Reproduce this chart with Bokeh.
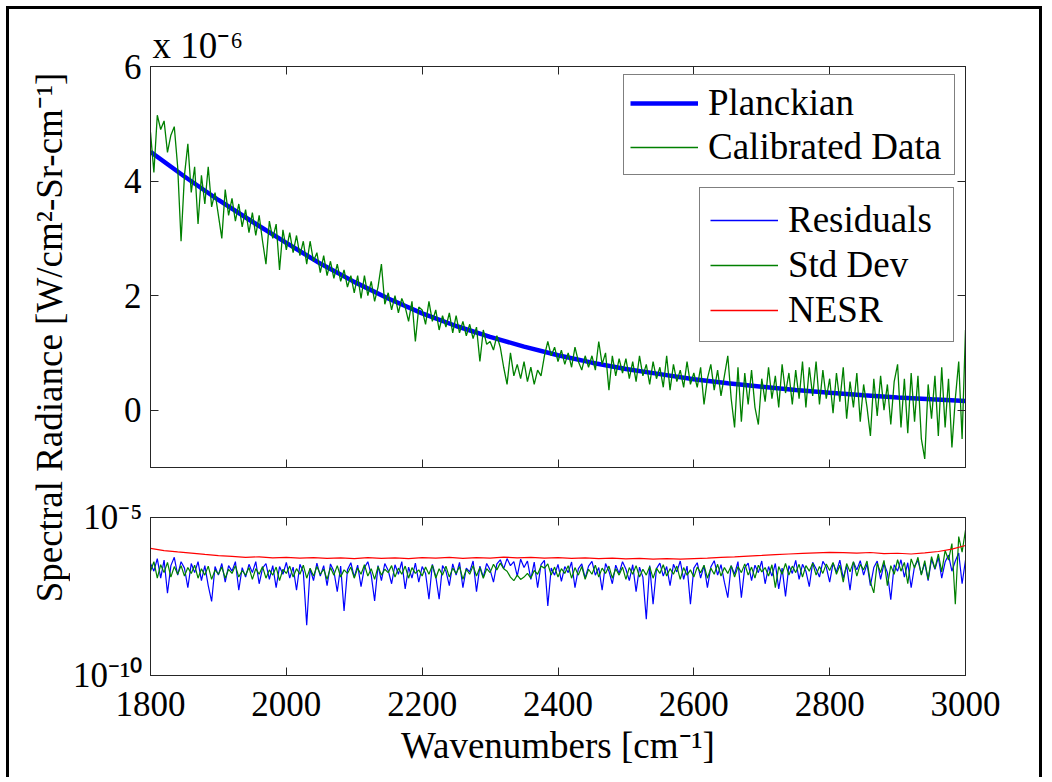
import math
from bokeh.plotting import figure
from bokeh.layouts import row, column
from bokeh.models import (Range1d, LinearAxis, LogAxis, LogScale, FixedTicker, Legend,
                          LegendItem, Label)
from bokeh.embed import file_html
from bokeh.resources import INLINE

FONT = "Liberation Serif"
FS = "35px"      # tick labels
FL = "37px"      # axis labels, legend, multiplier
AXC = "#262626"
NAN = float("nan")

# ---------------- data ----------------
# wavenumber sampling grids [cm^-1]
wn = list(range(1800, 3001, 5))
planck_wn = list(range(1800, 3001, 50))
nesr_wn = list(range(1800, 3001, 20))

x_ticks = [1800, 2000, 2200, 2400, 2600, 2800, 3000]
top_y_ticks = [0, 2, 4, 6]
log_ticks = [1e-10, 1e-5]
log_tick_labels = {1e-10: "10\u207b\u00b9\u2070", 1e-5: "10\u207b\u2075"}

# Planckian fit (units of 1e-6 W/cm2-Sr-cm-1)
planck = [4.51, 4.08, 3.67, 3.29, 2.92, 2.56, 2.24, 1.95, 1.69, 1.47, 1.28, 1.11, 0.96,
          0.83, 0.72, 0.63, 0.54, 0.47, 0.41, 0.353, 0.304, 0.260, 0.223, 0.190, 0.162]

# calibrated data (units of 1e-6 W/cm2-Sr-cm-1)
calibrated = [
    4.85, 4.15, 5.15, 4.90, 5.05, 4.50, 4.80, 4.95, 4.25, 2.95,
    4.10, 4.65, 3.80, 4.25, 3.25, 4.10, 3.60, 4.25, 3.55, 3.80,
    3.40, 3.00, 3.85, 3.40, 3.70, 3.30, 3.60, 3.20, 3.50, 3.10,
    3.45, 3.05, 3.40, 2.95, 2.55, 3.30, 3.00, 3.25, 2.45, 3.15,
    2.80, 3.10, 2.75, 3.05, 2.70, 2.95, 2.55, 2.95, 2.60, 2.75,
    2.40, 2.70, 2.35, 2.60, 2.30, 2.55, 2.25, 2.45, 2.15, 2.35,
    2.05, 2.35, 1.95, 2.35, 2.00, 2.25, 1.90, 2.15, 2.55, 1.85,
    2.05, 1.75, 2.00, 1.70, 1.95, 1.80, 1.55, 1.90, 1.20, 1.80,
    1.75, 1.50, 1.90, 1.55, 1.75, 1.40, 1.65, 1.45, 1.70, 1.35,
    1.65, 1.35, 1.55, 1.30, 1.50, 1.25, 1.45, 0.85, 1.40, 1.15,
    1.20, 1.05, 1.30, 1.10, 0.75, 0.45, 1.00, 0.60, 0.80, 0.55,
    0.85, 0.50, 0.75, 0.45, 0.70, 0.60, 0.95, 1.20, 0.95, 1.10,
    0.85, 1.05, 0.80, 1.00, 0.75, 1.10, 0.85, 0.70, 0.95, 0.75,
    0.95, 0.70, 1.20, 0.80, 1.00, 0.35, 0.95, 0.60, 0.90, 0.65,
    0.90, 0.55, 0.85, 0.50, 0.95, 0.60, 0.80, 0.45, 0.85, 0.55,
    0.75, 0.40, 0.95, 0.35, 0.80, 0.50, 0.70, 0.40, 0.85, 0.45,
    0.65, 0.40, 0.75, 0.10, 0.55, 0.80, 0.35, 0.70, 0.25, 0.60,
    0.95, 0.20, -0.30, 0.75, -0.20, 0.65, 0.10, 0.70, 0.05, -0.25,
    0.55, 0.15, 0.75, 0.20, 0.60, 0.05, 0.80, 0.30, 0.65, 0.10,
    0.70, 0.20, 0.85, 0.05, 0.75, 0.25, 0.85, 0.10, 0.70, 0.20,
    0.55, -0.05, 0.65, 0.15, 0.75, -0.15, 0.50, 0.05, 0.65, -0.20,
    0.45, 0.05, -0.45, 0.55, -0.10, 0.60, 0.00, 0.45, -0.25, 0.50,
    0.80, -0.30, 0.55, -0.40, 0.65, -0.20, 0.60, -0.50, -0.85, 0.45,
    -0.15, 0.60, -0.45, 0.75, -0.30, 0.55, -0.65, 0.20, 0.85, -0.50, 1.40,
]

# residuals (W/cm2-Sr-cm-1)
residuals = [
    3.5e-7, 2.0e-7, 5.0e-7, 1.2e-7, 4.5e-7, 4.0e-8, 3.0e-7, 5.5e-7, 1.5e-7, 4.0e-7,
    2.5e-7, 6.0e-8, 3.5e-7, 1.8e-7, 4.0e-7, 1.0e-7, 3.0e-7, 7.0e-8, 2.2e-8, 2.8e-7,
    1.5e-7, 3.5e-7, 9.0e-8, 3.0e-7, 2.0e-7, 4.0e-7, 5.0e-8, 2.6e-7, 1.3e-7, 3.3e-7,
    1.8e-7, 4.0e-7, 8.0e-8, 2.5e-7, 3.5e-7, 1.1e-7, 3.0e-7, 6.0e-8, 2.8e-7, 1.6e-7,
    3.8e-7, 1.2e-7, 2.7e-7, 5.0e-8, 3.3e-7, 1.9e-7, 3.9e-9, 2.4e-7, 1.0e-7, 3.6e-7,
    1.4e-7, 3.0e-7, 7.0e-8, 3.4e-7, 2.0e-7, 4.5e-8, 2.9e-7, 1.1e-8, 2.2e-7, 3.7e-7,
    1.3e-7, 3.1e-7, 6.5e-8, 2.6e-7, 4.0e-7, 1.5e-7, 2.3e-8, 3.0e-7, 1.0e-7, 3.5e-7,
    2.1e-7, 8.0e-8, 3.2e-7, 1.6e-7, 4.0e-7, 5.5e-8, 2.7e-7, 1.2e-7, 3.6e-7, 9.0e-8,
    2.8e-7, 1.7e-7, 2.6e-8, 3.3e-7, 1.4e-7, 2.6e-8, 3.0e-7, 2.0e-7, 7.0e-8, 3.4e-7,
    1.5e-7, 3.8e-7, 6.0e-8, 2.5e-7, 1.9e-7, 4.2e-7, 4.5e-8, 2.9e-7, 1.3e-7, 3.5e-7,
    2.2e-7, 9.0e-8, 3.4e-7, 4.6e-7, 2.4e-7, 5.0e-7, 3.0e-7, 4.0e-7, 1.4e-7, 4.8e-7,
    2.6e-7, 4.2e-7, 1.1e-7, 3.9e-7, 6.0e-8, 3.2e-7, 4.4e-7, 1.6e-8, 2.5e-7, 1.5e-7,
    3.3e-7, 9.5e-8, 2.8e-7, 1.8e-7, 3.9e-7, 6.0e-8, 2.4e-7, 3.4e-7, 1.2e-7, 2.9e-7,
    4.1e-7, 1.5e-7, 2.6e-7, 5.0e-8, 3.5e-7, 2.0e-7, 8.0e-8, 3.1e-7, 1.7e-7, 4.0e-7,
    2.3e-7, 1.0e-7, 3.2e-7, 4.5e-8, 2.7e-7, 1.3e-7, 6.0e-9, 3.0e-7, 1.8e-8, 2.4e-7,
    3.6e-7, 1.4e-7, 2.8e-7, 7.0e-8, 3.3e-7, 1.9e-7, 4.2e-7, 1.1e-7, 2.9e-7, 1.8e-8,
    2.5e-7, 3.7e-7, 1.2e-7, 3.0e-7, 6.0e-8, 2.7e-7, 4.3e-7, 1.5e-7, 3.2e-7, 9.0e-8,
    2.9e-8, 3.0e-7, 1.6e-7, 4.0e-7, 2.9e-8, 2.6e-7, 3.6e-7, 1.0e-7, 3.1e-7, 1.8e-7,
    4.2e-7, 8.0e-8, 2.8e-7, 1.4e-7, 3.5e-7, 5.5e-8, 2.5e-7, 3.2e-8, 3.0e-7, 1.7e-7,
    4.4e-7, 1.1e-7, 3.3e-7, 2.0e-7, 6.5e-8, 3.8e-7, 2.4e-7, 1.3e-7, 4.1e-7, 2.7e-7,
    9.0e-8, 3.6e-7, 1.9e-7, 4.5e-7, 1.2e-7, 3.0e-7, 5.0e-8, 3.9e-7, 2.2e-7, 4.3e-7,
    1.5e-7, 3.4e-7, 7.0e-8, 2.6e-7, 4.2e-7, 1.1e-7, 3.5e-7, 1.8e-7, 2.5e-8, 3.2e-7,
    2.0e-7, 4.6e-7, 1.3e-7, 3.7e-7, 6.0e-8, 2.9e-7, 4.4e-7, 1.6e-7, 3.6e-7, 1.0e-7,
    4.8e-7, 2.3e-7, 5.5e-7, 1.2e-7, 3.9e-7, 6.5e-7, 2.0e-7, 4.2e-7, 7.5e-7, 8.0e-8, 4.5e-7,
]

# standard deviation (W/cm2-Sr-cm-1)
std_dev = [
    2.0e-7, 4.0e-7, 1.2e-7, 3.2e-7, 1.8e-7, 3.8e-7, 1.3e-7, 2.8e-7, 1.6e-7, 3.0e-7,
    1.4e-7, 2.6e-7, 1.7e-7, 3.1e-7, 1.2e-7, 2.4e-7, 1.5e-7, 2.9e-7, 1.1e-7, 2.2e-7,
    1.6e-7, 2.7e-7, 1.2e-7, 2.3e-7, 1.7e-7, 3.0e-7, 1.3e-7, 2.1e-7, 1.5e-7, 2.6e-7,
    1.1e-7, 2.4e-7, 1.6e-7, 2.8e-7, 1.2e-7, 2.2e-7, 1.5e-7, 2.7e-7, 1.0e-7, 2.3e-7,
    1.7e-7, 2.9e-7, 1.3e-7, 2.4e-7, 1.6e-7, 3.1e-7, 1.2e-7, 2.5e-7, 1.4e-7, 2.8e-7,
    1.6e-7, 2.3e-7, 1.1e-7, 2.6e-7, 1.5e-7, 3.0e-7, 1.3e-7, 2.2e-7, 1.7e-7, 2.7e-7,
    1.2e-7, 2.5e-7, 1.6e-7, 3.2e-7, 1.4e-7, 2.4e-7, 1.1e-7, 2.8e-7, 1.5e-7, 2.3e-7,
    1.8e-7, 3.0e-7, 1.3e-7, 2.5e-7, 1.6e-7, 2.9e-7, 1.2e-7, 2.6e-7, 1.7e-7, 2.2e-7,
    1.4e-7, 2.7e-7, 1.6e-7, 3.1e-7, 1.2e-7, 2.4e-7, 1.5e-7, 2.9e-7, 1.3e-7, 2.5e-7,
    1.7e-7, 2.8e-7, 1.1e-7, 2.3e-7, 1.6e-7, 3.0e-7, 1.4e-7, 2.6e-7, 1.2e-7, 2.4e-7,
    1.8e-7, 3.3e-7, 2.2e-7, 3.6e-7, 2.4e-7, 2.0e-7, 1.3e-7, 1.0e-7, 1.5e-7, 1.1e-7,
    1.3e-7, 1.7e-7, 1.2e-7, 2.1e-7, 1.6e-7, 2.9e-7, 2.5e-7, 3.4e-7, 1.5e-7, 2.7e-7,
    1.3e-7, 2.4e-7, 1.7e-7, 3.0e-7, 1.2e-7, 2.6e-7, 1.5e-7, 2.8e-7, 1.1e-7, 2.3e-7,
    1.6e-7, 3.1e-7, 1.3e-7, 2.5e-7, 1.7e-7, 2.9e-7, 1.2e-7, 2.4e-7, 1.5e-7, 2.7e-7,
    1.1e-7, 2.6e-7, 1.6e-7, 3.0e-7, 1.3e-7, 2.3e-7, 1.5e-7, 2.8e-7, 1.2e-7, 2.5e-7,
    1.7e-7, 3.2e-7, 1.4e-7, 2.4e-7, 1.6e-7, 2.9e-7, 1.1e-7, 2.6e-7, 1.5e-7, 2.2e-7,
    1.3e-7, 2.7e-7, 1.8e-7, 3.1e-7, 1.2e-7, 2.5e-7, 1.6e-7, 3.3e-7, 1.4e-7, 2.6e-7,
    1.7e-7, 3.0e-7, 1.3e-7, 2.8e-7, 1.8e-7, 3.4e-7, 1.5e-7, 2.7e-7, 1.2e-7, 3.1e-7,
    1.9e-7, 2.6e-7, 1.4e-7, 3.2e-7, 6.0e-8, 2.8e-7, 1.6e-7, 3.5e-7, 1.5e-7, 2.9e-7,
    1.8e-7, 3.3e-7, 1.3e-7, 3.0e-7, 2.0e-7, 3.6e-7, 1.5e-7, 2.8e-7, 1.7e-7, 3.4e-7,
    2.1e-7, 3.8e-7, 1.6e-7, 3.1e-7, 9.0e-8, 3.5e-7, 1.9e-7, 4.0e-7, 1.4e-7, 3.3e-7,
    2.2e-7, 4.2e-7, 9.0e-8, 4.1e-8, 3.6e-7, 1.8e-7, 4.4e-7, 7.0e-8, 3.0e-7, 1.6e-7,
    4.6e-7, 2.0e-7, 3.8e-7, 8.0e-8, 4.9e-7, 2.5e-7, 5.5e-7, 1.5e-7, 4.3e-7, 1.1e-7,
    5.8e-7, 2.4e-7, 7.0e-7, 1.9e-7, 9.0e-7, 4.5e-7, 1.5e-6, 1.8e-8, 2.5e-6, 8.0e-7, 4.0e-6,
]

# noise-equivalent spectral radiance (W/cm2-Sr-cm-1)
nesr = [
    1.05e-6, 9.0e-7, 8.2e-7, 7.5e-7, 6.8e-7, 6.2e-7, 5.9e-7, 5.5e-7, 5.7e-7, 5.3e-7,
    5.5e-7, 5.2e-7, 5.4e-7, 5.1e-7, 5.3e-7, 5.0e-7, 5.4e-7, 5.1e-7, 5.3e-7, 5.0e-7,
    5.4e-7, 5.2e-7, 5.5e-7, 5.1e-7, 5.4e-7, 5.2e-7, 5.6e-7, 5.3e-7, 5.5e-7, 5.2e-7,
    5.4e-7, 5.1e-7, 5.3e-7, 5.0e-7, 5.2e-7, 4.9e-7, 5.1e-7, 4.8e-7, 5.0e-7, 4.8e-7,
    5.0e-7, 5.2e-7, 5.5e-7, 5.7e-7, 6.0e-7, 6.3e-7, 6.7e-7, 7.0e-7, 7.3e-7, 7.6e-7,
    7.9e-7, 7.7e-7, 7.5e-7, 7.8e-7, 7.2e-7, 7.4e-7, 7.0e-7, 7.6e-7, 8.4e-7, 1.0e-6, 1.3e-6,
]

BLUE = "#0000FF"
GREEN = "#008000"
RED = "#FF0000"


def style_axis(ax, show_labels, standoff=9):
    ax.axis_line_color = AXC
    ax.axis_line_width = 1
    ax.major_tick_line_color = AXC
    ax.major_tick_in = 8
    ax.major_tick_out = 0
    ax.minor_tick_line_color = None
    ax.major_label_text_font = FONT
    if show_labels:
        ax.major_label_text_color = "black"
        ax.major_label_text_font_size = FS
        ax.major_label_standoff = standoff
    else:
        ax.major_label_text_color = None
        ax.major_label_text_font_size = "0px"
        ax.major_label_standoff = 0


# ---------------- top panel ----------------
top = figure(width=969, height=468, x_range=Range1d(1800, 3000), y_range=Range1d(-1, 6),
             output_backend="svg", toolbar_location=None,
             x_axis_location=None, y_axis_location=None,
             min_border_left=77, min_border_right=74, min_border_top=57, min_border_bottom=10)
top.outline_line_color = AXC
top.border_fill_color = None
top.background_fill_color = "white"
top.grid.visible = False

# axis multiplier shown above the top-left corner
top.title.text = "x 10\u207b\u2076"
top.title.align = "left"
top.title.offset = 2
top.title.standoff = 2
top.title.text_font = FONT
top.title.text_font_size = FL
top.title.text_font_style = "normal"
top.title.text_color = "black"

ax = LinearAxis(ticker=FixedTicker(ticks=top_y_ticks)); style_axis(ax, True); top.add_layout(ax, "left")
ax = LinearAxis(ticker=FixedTicker(ticks=top_y_ticks)); style_axis(ax, False); top.add_layout(ax, "right")
ax = LinearAxis(ticker=FixedTicker(ticks=x_ticks)); style_axis(ax, False); top.add_layout(ax, "below")
ax = LinearAxis(ticker=FixedTicker(ticks=x_ticks)); style_axis(ax, False); top.add_layout(ax, "above")

r_planck = top.line(planck_wn, planck, line_color=BLUE, line_width=4.5)
r_cal = top.line(wn, calibrated, line_color=GREEN, line_width=1.3)

# legend proxies (no visible data) for the lower panel's series
p_res = top.line(x=[1800], y=[NAN], line_color=BLUE, line_width=1.5)
p_std = top.line(x=[1800], y=[NAN], line_color=GREEN, line_width=1.5)
p_nesr = top.line(x=[1800], y=[NAN], line_color=RED, line_width=1.5)


def style_legend(lg, pad, spacing, lw):
    lg.border_line_color = "black"
    lg.border_line_width = 1
    lg.background_fill_color = "white"
    lg.background_fill_alpha = 1
    lg.label_text_font = FONT
    lg.label_text_font_size = FL
    lg.label_text_color = "black"
    lg.glyph_width = 68
    lg.glyph_height = 30
    lg.label_height = 30
    lg.label_standoff = 10
    lg.label_width = lw
    lg.padding = pad
    lg.spacing = spacing
    lg.margin = 0


leg1 = Legend(items=[LegendItem(label="Planckian", renderers=[r_planck]),
                     LegendItem(label="Calibrated Data", renderers=[r_cal])],
              location=(473, 292))
style_legend(leg1, 6, 1, 240)
top.add_layout(leg1)

leg2 = Legend(items=[LegendItem(label="Residuals", renderers=[p_res]),
                     LegendItem(label="Std Dev", renderers=[p_std]),
                     LegendItem(label="NESR", renderers=[p_nesr])],
              location=(549, 125))
style_legend(leg2, 10, 2, 155)
top.add_layout(leg2)

# ---------------- bottom panel ----------------
bot = figure(width=969, height=300, x_range=top.x_range, y_range=Range1d(1e-10, 1e-5),
             y_axis_type="log", output_backend="svg", toolbar_location=None,
             x_axis_location=None, y_axis_location=None,
             min_border_left=77, min_border_right=74, min_border_top=40, min_border_bottom=102)
bot.y_scale = LogScale()
bot.outline_line_color = AXC
bot.border_fill_color = None
bot.background_fill_color = "white"
bot.grid.visible = False

ax = LogAxis(ticker=FixedTicker(ticks=log_ticks), major_label_overrides=log_tick_labels)
style_axis(ax, True, 8); bot.add_layout(ax, "left")
ax = LogAxis(ticker=FixedTicker(ticks=log_ticks)); style_axis(ax, False); bot.add_layout(ax, "right")
ax = LinearAxis(ticker=FixedTicker(ticks=x_ticks)); style_axis(ax, True, 16)
ax.axis_label = "Wavenumbers [cm\u207b\u00b9]"
ax.axis_label_text_font = FONT
ax.axis_label_text_font_size = FL
ax.axis_label_text_font_style = "normal"
ax.axis_label_text_color = "black"
ax.axis_label_standoff = 6
bot.add_layout(ax, "below")
ax = LinearAxis(ticker=FixedTicker(ticks=x_ticks)); style_axis(ax, False); bot.add_layout(ax, "above")

bot.line(wn, residuals, line_color=BLUE, line_width=1.2)
bot.line(wn, std_dev, line_color=GREEN, line_width=1.2)
bot.line(nesr_wn, nesr, line_color=RED, line_width=1.2)

# ---------------- shared y label ----------------
lab = figure(width=61, height=768, x_range=Range1d(0, 61), y_range=Range1d(0, 768),
             output_backend="svg", toolbar_location=None,
             x_axis_location=None, y_axis_location=None, min_border=0)
lab.outline_line_color = None
lab.border_fill_color = None
lab.background_fill_color = None
lab.grid.visible = False
lab.add_layout(Label(x=40, y=440, text="Spectral Radiance [W/cm\u00b2-Sr-cm\u207b\u00b9]",
                     angle=math.pi / 2, text_font=FONT, text_font_size=FL,
                     text_color="black", text_align="center", text_baseline="middle"))

layout = row(lab, column(top, bot),
             styles={"margin": "6px 6px 0px 6px", "border-top": "3px solid black",
                     "border-left": "3px solid black", "border-right": "3px solid black",
                     "background-color": "white"})

with open("out.html", "w") as f:
    f.write(file_html(layout, INLINE))
